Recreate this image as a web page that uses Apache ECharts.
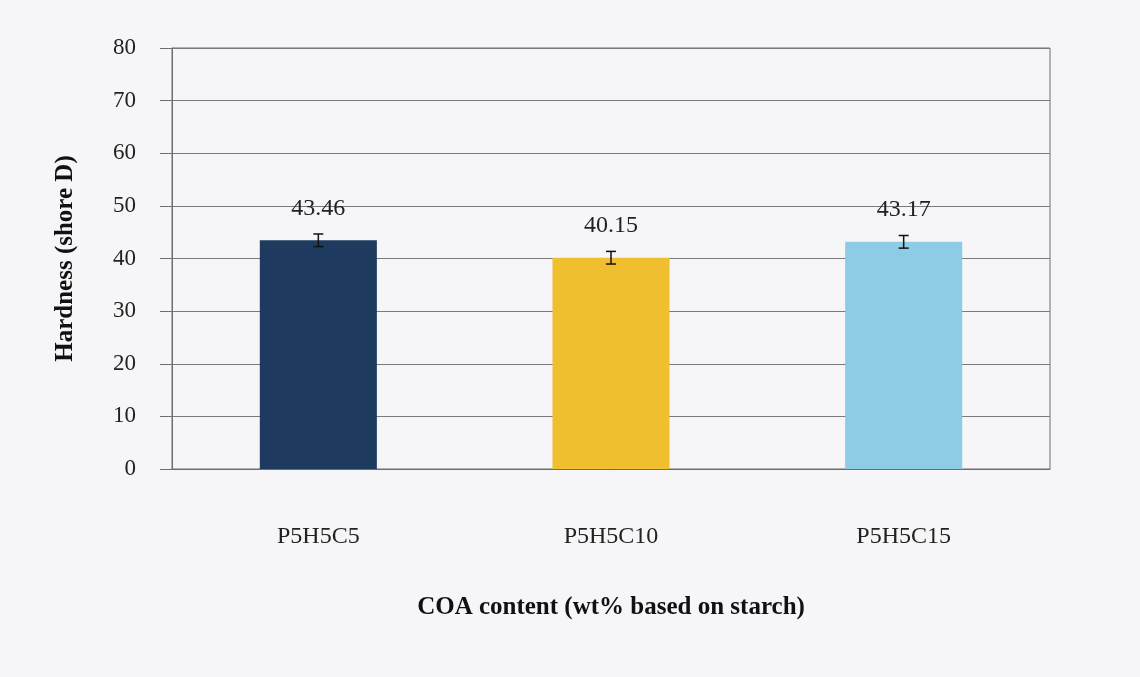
<!DOCTYPE html>
<html>
<head>
<meta charset="utf-8">
<script src="https://cdn.jsdelivr.net/npm/echarts@6/dist/echarts.min.js"></script>
<style>
html,body{margin:0;padding:0;background:#f6f6f8;}
#chart{width:1140px;height:677px;}
</style>
</head>
<body>
<div id="chart"></div>
<script>
const categories = ['P5H5C5', 'P5H5C10', 'P5H5C15'];
const hardness = [43.46, 40.15, 43.17];
const errors = [1.2, 1.2, 1.2];
const barColors = ['#1e3a5e', '#efbf2f', '#8ecce6'];
const yTicks = [0, 10, 20, 30, 40, 50, 60, 70, 80];

const font = '"Liberation Serif", "Times New Roman", serif';
const chart = echarts.init(document.getElementById('chart'));

const errData = categories.map((c, i) => [i, hardness[i] - errors[i], hardness[i] + errors[i]]);

chart.setOption({
  backgroundColor: '#f6f6f8',
  animation: false,
  grid: { left: 172, right: 90, top: 48, bottom: 208, containLabel: false,
          show: true, borderColor: '#6e6e6e', borderWidth: 1 },
  xAxis: {
    type: 'category',
    data: categories,
    name: 'COA content (wt% based on starch)',
    nameLocation: 'middle',
    nameGap: 126,
    nameTextStyle: { fontFamily: font, fontSize: 25, fontWeight: 'bold', color: '#111' },
    axisLine: { lineStyle: { color: '#6e6e6e', width: 1 } },
    axisTick: { show: false },
    axisLabel: { fontFamily: font, fontSize: 24, color: '#222', margin: 56 }
  },
  yAxis: {
    type: 'value',
    min: 0, max: 80, interval: 10,
    name: 'Hardness (shore D)',
    nameLocation: 'middle',
    nameGap: 94,
    nameTextStyle: { fontFamily: font, fontSize: 25, fontWeight: 'bold', color: '#111' },
    axisLine: { show: true, lineStyle: { color: '#6e6e6e', width: 1 } },
    axisTick: { show: true, inside: false, length: 12, lineStyle: { color: '#6e6e6e' } },
    axisLabel: { fontFamily: font, fontSize: 23, color: '#222', margin: 36,
                 formatter: v => yTicks.includes(v) ? String(v) : '' },
    splitLine: { show: true, lineStyle: { color: '#7a7a7a', width: 1 } }
  },
  series: [
    {
      type: 'bar',
      data: hardness.map((v, i) => ({ value: v, itemStyle: { color: barColors[i] } })),
      barWidth: '40%',
      label: { show: true, position: 'top', distance: 20, fontFamily: font, fontSize: 24,
               color: '#222', formatter: p => p.value.toFixed(2) },
      z: 2
    },
    {
      type: 'custom',
      data: errData,
      z: 5,
      renderItem: function (params, api) {
        const x = api.value(0);
        const lo = api.coord([x, api.value(1)]);
        const hi = api.coord([x, api.value(2)]);
        const w = 5;
        const st = { stroke: '#111', lineWidth: 1.5 };
        return {
          type: 'group',
          children: [
            { type: 'line', shape: { x1: hi[0], y1: hi[1], x2: lo[0], y2: lo[1] }, style: st },
            { type: 'line', shape: { x1: hi[0] - w, y1: hi[1], x2: hi[0] + w, y2: hi[1] }, style: st },
            { type: 'line', shape: { x1: lo[0] - w, y1: lo[1], x2: lo[0] + w, y2: lo[1] }, style: st }
          ]
        };
      }
    }
  ]
});
</script>
</body>
</html>
